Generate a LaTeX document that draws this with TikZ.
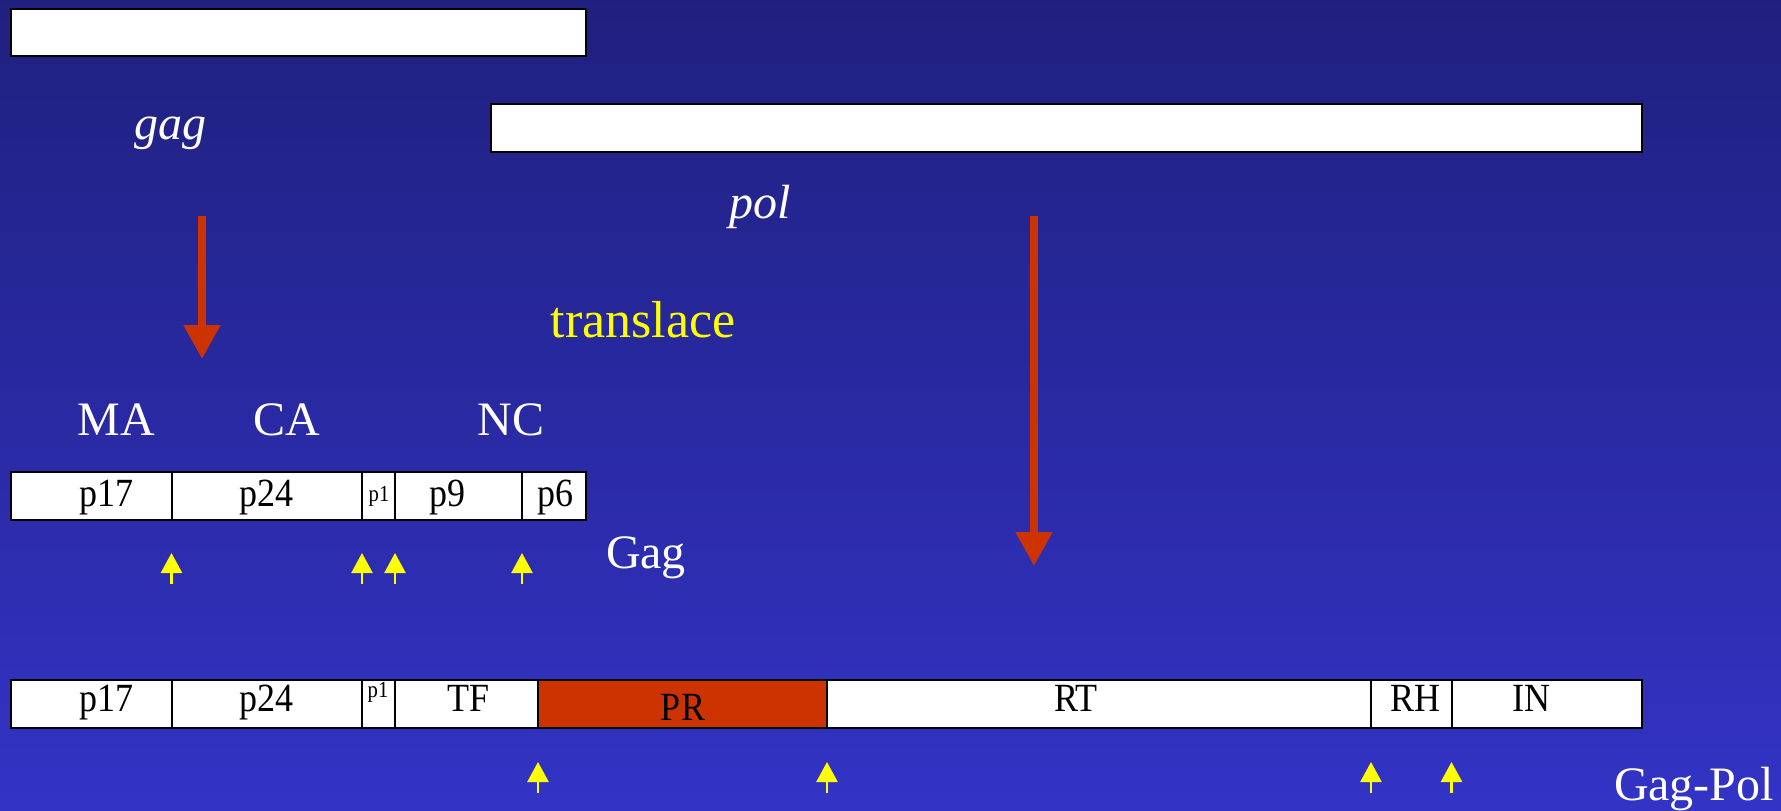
\documentclass[tikz,border=0pt]{standalone}
\usepackage{fontspec}
\setmainfont{Liberation Serif}
\usetikzlibrary{arrows.meta}
\definecolor{bgtop}{RGB}{31,32,126}
\definecolor{bgbot}{RGB}{51,51,198}
\definecolor{prred}{RGB}{204,51,0}
\definecolor{ylw}{RGB}{255,255,0}
\newcommand{\cnd}[1]{\scalebox{0.9}[1]{#1}}
\begin{document}
\begin{tikzpicture}[x=1pt,y=-1pt,
  seg/.style={draw=black, line width=2pt, fill=white, minimum height=48pt, inner sep=0pt, outer sep=0pt, anchor=west},
  gene/.style={draw=black, line width=2pt, fill=white, inner sep=0pt, outer sep=0pt, anchor=north west},
  lab/.style={text=black, font=\fontsize{40}{42}\selectfont, anchor=base, inner sep=0pt},
  small/.style={text=black, font=\fontsize{23}{25}\selectfont, anchor=base, inner sep=0pt},
  wlab/.style={text=white, font=\fontsize{48}{56}\selectfont, anchor=base, inner sep=0pt},
  redarrow/.style={draw=prred, line width=8pt, -{Triangle[width=35pt,length=34pt]}, fill=prred},
  yarrow/.style={draw=ylw, line width=2.5pt, -{Triangle[width=21pt,length=20pt]}, fill=ylw}
]
\shade[top color=bgtop, bottom color=bgbot] (0,0) rectangle (1781,811);
\useasboundingbox (0,0) rectangle (1781,811);

% gene bars
\node[gene, minimum width=575pt, minimum height=47pt] (gagbar) at (11,9) {};
\node[gene, minimum width=1151pt, minimum height=48pt] (polbar) at (491,104) {};
\node[wlab, font=\fontsize{48}{56}\selectfont\itshape] (gagt) at (170,139) {gag};
\node[wlab, font=\fontsize{48}{56}\selectfont\itshape] (polt) at (760,218) {pol};

% red arrows
\coordinate (ra1s) at (202,216);
\coordinate (ra1e) at (202,359);
\coordinate (ra2s) at (1034,216);
\coordinate (ra2e) at (1034,566);
\draw[redarrow] (ra1s) -- (ra1e);
\draw[redarrow] (ra2s) -- (ra2e);

\node[text=ylw, font=\fontsize{52}{60}\selectfont, anchor=base, inner sep=0pt] (trans) at (643,337) {translace};

\node[wlab] (ma) at (116,435) {MA};
\node[wlab] (ca) at (287,435) {CA};
\node[wlab] (nc) at (511,435) {NC};

% Gag bar
\node[seg, minimum width=160.5pt] (g1) at (11,496) {};
\node[seg, minimum width=190.5pt] (g2) at (171.5,496) {};
\node[seg, minimum width=33pt] (g3) at (362,496) {};
\node[seg, minimum width=127pt] (g4) at (395,496) {};
\node[seg, minimum width=64pt] (g5) at (522,496) {};
\node[lab] at (106,506) {\cnd{p17}};
\node[lab] at (266,506) {\cnd{p24}};
\node[small] at (379,501) {\cnd{p1}};
\node[lab] at (447,506) {\cnd{p9}};
\node[lab] at (555,506) {\cnd{p6}};
\node[wlab] (gagl) at (646,568) {Gag};

% Gag-Pol bar
\node[seg, minimum width=160.5pt] (h1) at (11,704) {};
\node[seg, minimum width=190.5pt] (h2) at (171.5,704) {};
\node[seg, minimum width=33pt] (h3) at (362,704) {};
\node[seg, minimum width=143pt] (h4) at (395,704) {};
\node[seg, minimum width=289pt, fill=prred] (h5) at (538,704) {};
\node[seg, minimum width=544pt] (h6) at (827,704) {};
\node[seg, minimum width=80.5pt] (h7) at (1371,704) {};
\node[seg, minimum width=190.5pt] (h8) at (1451.5,704) {};
\node[lab] at (106,711) {\cnd{p17}};
\node[lab] at (266,711) {\cnd{p24}};
\node[small] at (378,697) {\cnd{p1}};
\node[lab] at (469,711) {\cnd{TF}};
\node[lab] at (683,720) {\cnd{PR}};
\node[lab] at (1076,711) {\cnd{RT}};
\node[lab] at (1415,711) {\cnd{RH}};
\node[lab] at (1531,711) {\cnd{IN}};
\node[wlab] (gpl) at (1694,800) {Gag-Pol};

% yellow arrows (Gag)
\foreach \i/\xx in {1/171.5,2/362,3/395,4/522}{
  \coordinate (ys\i) at (\xx,584);
  \coordinate (ye\i) at (\xx,553);
  \draw[yarrow] (ys\i) -- (ye\i);
}
% yellow arrows (Gag-Pol)
\foreach \i/\xx in {5/538,6/827,7/1371,8/1451.5}{
  \coordinate (ys\i) at (\xx,793);
  \coordinate (ye\i) at (\xx,762);
  \draw[yarrow] (ys\i) -- (ye\i);
}
\end{tikzpicture}
\end{document}
